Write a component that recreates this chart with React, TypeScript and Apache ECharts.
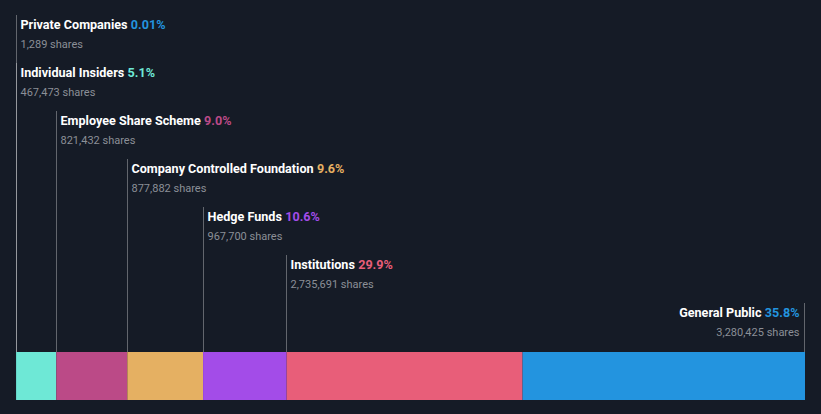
import React, { useEffect, useRef } from "react";
import * as echarts from "echarts";

const categories = [
  "Private Companies",
  "Individual Insiders",
  "Employee Share Scheme",
  "Company Controlled Foundation",
  "Hedge Funds",
  "Institutions",
  "General Public",
];
const percents = [0.01, 5.1, 9.0, 9.6, 10.6, 29.9, 35.8];
const shares = [1289, 467473, 821432, 877882, 967700, 2735691, 3280425];
const colors = ["#2394df", "#6ee8d6", "#bb4a87", "#e5b062", "#a34ce8", "#e85e79", "#2394df"];
const barColors = ["#2394df", "#6ee8d6", "#bb4a87", "#e5b062", "#a34ce8", "#e85e79", "#2394df"];

const BG = "#151b26";
const FONT = "Roboto, 'Noto Sans', sans-serif";

function fmtPct(v: number): string {
  return (v < 0.1 ? v.toFixed(2) : v.toFixed(1)) + "%";
}

export default function App() {
  const ref = useRef<HTMLDivElement>(null);

  useEffect(() => {
    document.body.style.margin = "0";
    document.body.style.background = BG;
    if (!ref.current) return;
    const chart = echarts.init(ref.current, undefined, { renderer: "svg" });
    const total = percents.reduce((a, b) => a + b, 0);
    const starts: number[] = [];
    let acc = 0;
    percents.forEach((p) => {
      starts.push(acc);
      acc += p;
    });
    const last = categories.length - 1;
    const annotationData = categories.map((_, i) => [
      i === last ? total : starts[i],
      0,
      i,
    ]);

    const barSeries = categories.map((name, i) => ({
      type: "bar",
      name,
      stack: "own",
      data: [percents[i]],
      barWidth: "100%",
      itemStyle: { color: barColors[i] },
      silent: true,
    }));

    chart.setOption({
      animation: false,
      backgroundColor: BG,
      grid: { left: 16, right: 16, top: 352, height: 48 },
      xAxis: {
        type: "value",
        min: 0,
        max: total,
        show: false,
      },
      yAxis: {
        type: "category",
        data: ["Ownership"],
        show: false,
      },
      series: [
        ...barSeries,
        {
          type: "custom",
          clip: false,
          silent: true,
          z: 5,
          encode: { x: 0, y: 1 },
          data: annotationData,
          renderItem: (params: any, api: any) => {
            const idx = api.value(2) as number;
            const x = Math.floor(api.coord([api.value(0), 0])[0]) + (idx === last ? -0.5 : 0.5);
            const barTop = params.coordSys.y as number;
            const rowTop = 15 + idx * 48;
            const right = idx === last;
            const tx = right ? x - 5 : x + 4;
            return {
              type: "group",
              children: [
                {
                  type: "line",
                  shape: { x1: x, y1: rowTop, x2: x, y2: barTop },
                  style: { stroke: "rgba(255,255,255,0.33)", lineWidth: 1 },
                },
                {
                  type: "text",
                  style: {
                    x: tx,
                    y: rowTop + 9,
                    text: `{n|${categories[idx]}} {p|${fmtPct(percents[idx])}}`,
                    align: right ? "right" : "left",
                    verticalAlign: "middle",
                    rich: {
                      n: { fill: "#ffffff", fontFamily: FONT, fontWeight: "bold", fontSize: 12.6 },
                      p: { fill: colors[idx], fontFamily: FONT, fontWeight: "bold", fontSize: 12.6 },
                    },
                  },
                },
                {
                  type: "text",
                  style: {
                    x: tx,
                    y: rowTop + 29,
                    text: `${shares[idx].toLocaleString("en-US")} shares`,
                    align: right ? "right" : "left",
                    verticalAlign: "middle",
                    fill: "#8b8f97",
                    fontFamily: FONT,
                    fontSize: 11,
                  },
                },
              ],
            };
          },
        },
      ],
    });
    return () => chart.dispose();
  }, []);

  return <div ref={ref} style={{ width: 821, height: 414 }} />;
}
